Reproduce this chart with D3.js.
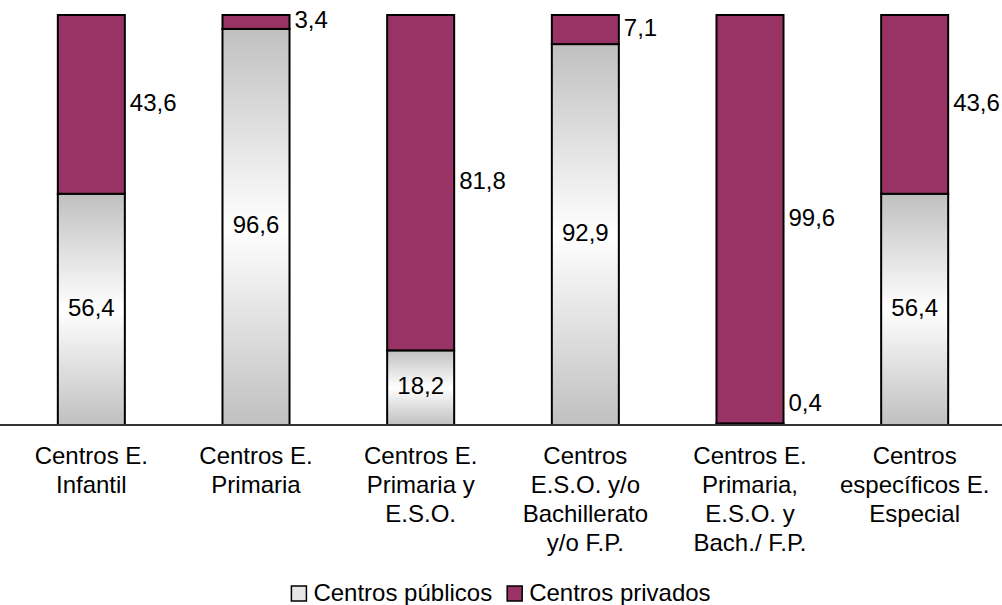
<!DOCTYPE html>
<html>
<head>
<meta charset="utf-8">
<script src="https://cdn.jsdelivr.net/npm/d3@7"></script>
<style>
  body { margin: 0; background: #fff; }
  text { font-family: "Liberation Sans", Arial, sans-serif; fill: #000; }
</style>
</head>
<body>
<div id="chart"></div>
<script>
/* Stacked 100% bars: centros públicos / privados por tipo de centro */

const categories = [
    ["Centros E.", "Infantil"],
    ["Centros E.", "Primaria"],
    ["Centros E.", "Primaria y", "E.S.O."],
    ["Centros", "E.S.O. y/o", "Bachillerato", "y/o F.P."],
    ["Centros E.", "Primaria,", "E.S.O. y", "Bach./ F.P."],
    ["Centros", "específicos E.", "Especial"]
];
const publicos = [56.4, 96.6, 18.2, 92.9, 0.4, 56.4];
const privados = [43.6, 3.4, 81.8, 7.1, 99.6, 43.6];
const seriesNames = ["Centros públicos", "Centros privados"];

const width = 1002,
      height = 605,
      margin = ({ top: 15, right: 5, bottom: 180, left: 9 });

const data = categories.map((c, i) => ({
    id: i,
    lines: c,
    pub: publicos[i],
    priv: privados[i]
}));

let svg = d3.select("#chart")
    .append("svg")
    .attr("width", width)
    .attr("height", height);

// gray - white - gray fill for the public segments
let grad = svg.append("defs").append("linearGradient")
    .attr("id", "pubGrad")
    .attr("x1", 0).attr("y1", 0).attr("x2", 0).attr("y2", 1);
grad.append("stop").attr("offset", "0%").attr("stop-color", "#c0c0c0");
grad.append("stop").attr("offset", "50%").attr("stop-color", "#ffffff");
grad.append("stop").attr("offset", "100%").attr("stop-color", "#c0c0c0");

const priColor = "#993366";

let x = d3.scaleBand()
    .domain(data.map(d => d.id))
    .range([margin.left, width - margin.right])
    .paddingInner(0.593)
    .paddingOuter(0.2965);

let y = d3.scaleLinear()
    .domain([0, 100])
    .range([height - margin.bottom, margin.top]);

let bar = svg.selectAll(".bar")
    .data(data)
    .join("g")
    .attr("class", "bar");

bar.append("rect") // public part
    .attr("x", d => x(d.id))
    .attr("y", d => y(d.pub))
    .attr("width", x.bandwidth())
    .attr("height", d => y(0) - y(d.pub))
    .attr("fill", "url(#pubGrad)")
    .attr("stroke", "#000")
    .attr("stroke-width", 2);

bar.append("rect") // private part on top
    .attr("x", d => x(d.id))
    .attr("y", d => y(d.pub + d.priv))
    .attr("width", x.bandwidth())
    .attr("height", d => y(d.pub) - y(d.pub + d.priv))
    .attr("fill", priColor)
    .attr("stroke", "#000")
    .attr("stroke-width", 2);

// baseline
svg.append("line")
    .attr("x1", 0)
    .attr("x2", width)
    .attr("y1", y(0))
    .attr("y2", y(0))
    .attr("stroke", "#333")
    .attr("stroke-width", 2);

const fmt = v => String(v).replace(".", ",");
const fontSize = 24;

// public labels: inside if there is room, otherwise right of the bar
bar.append("text")
    .text(d => fmt(d.pub))
    .attr("x", d => (y(0) - y(d.pub)) > 30 ? x(d.id) + x.bandwidth() / 2 : x(d.id) + x.bandwidth() + 5)
    .attr("y", d => Math.min((y(0) + y(d.pub)) / 2, y(0) - 20))
    .attr("text-anchor", d => (y(0) - y(d.pub)) > 30 ? "middle" : "start")
    .attr("dominant-baseline", "middle")
    .style("font-size", fontSize + "px");

bar.append("text")
    .text(d => fmt(d.priv))
    .attr("x", d => x(d.id) + x.bandwidth() + 5)
    .attr("y", d => (y(d.pub) + y(d.pub + d.priv)) / 2)
    .attr("dominant-baseline", "middle")
    .style("font-size", fontSize + "px");

// category labels, several lines
let cat = svg.append("g")
    .selectAll("text")
    .data(data)
    .join("text")
    .attr("text-anchor", "middle")
    .attr("transform", d => `translate(${x(d.id) + x.bandwidth() / 2},464)`)
    .style("font-size", fontSize + "px");

cat.selectAll("tspan")
    .data(d => d.lines)
    .join("tspan")
    .attr("x", 0)
    .attr("y", (d, i) => i * 29)
    .text(d => d);

// legend, centred under the chart
let legend = svg.append("g");
let lx = 0;
seriesNames.forEach((name, i) => {
    let g = legend.append("g").attr("transform", `translate(${lx},0)`);
    g.append("rect")
        .attr("y", -15)
        .attr("width", 15)
        .attr("height", 15)
        .attr("fill", i === 0 ? "#e6e6e6" : priColor)
        .attr("stroke", "#000")
        .attr("stroke-width", 1.5);
    let t = g.append("text")
        .attr("x", 22)
        .attr("y", 0)
        .style("font-size", fontSize + "px")
        .text(name);
    lx += 22 + t.node().getComputedTextLength() + 15;
});
lx -= 15;
legend.attr("transform", `translate(${(width - lx) / 2},601)`);
</script>
</body>
</html>
